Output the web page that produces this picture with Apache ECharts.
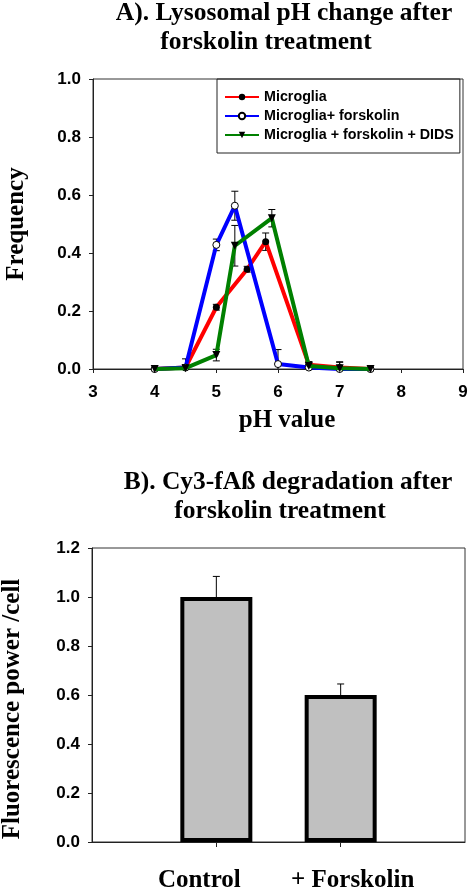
<!DOCTYPE html>
<html><head><meta charset="utf-8">
<script src="https://cdn.jsdelivr.net/npm/echarts@6/dist/echarts.min.js"></script>
<style>html,body{margin:0;padding:0;background:#fff}#c{width:468px;height:891px}</style>
</head><body><div id="c"></div>
<script>
// ---- Panel A data ----
const phRed = [4, 4.5, 5, 5.5, 5.8, 6.5, 7, 7.5];
const freqRed = [0, 0.005, 0.213, 0.344, 0.439, 0.015, 0.005, 0];
const errRed = [0, 0.01, 0.01, 0.01, 0.03, 0.01, 0.02, 0];
const phBlue = [4, 4.5, 5, 5.3, 6, 6.5, 7, 7.5];
const freqBlue = [0, 0.005, 0.428, 0.563, 0.017, 0.005, 0, 0];
const errBlue = [0, 0.03, 0.02, 0.05, 0.05, 0.01, 0, 0];
const phGreen = [4, 4.5, 5, 5.3, 5.9, 6.5, 7, 7.5];
const freqGreen = [0, 0.003, 0.048, 0.425, 0.52, 0.01, 0.003, 0];
const errGreen = [0, 0.01, 0.02, 0.07, 0.03, 0.015, 0.02, 0];
const seriesNames = ['Microglia', 'Microglia+ forskolin', 'Microglia + forskolin + DIDS'];
// ---- Panel B data ----
const barCategories = ['', 'Control', '+ Forskolin', ''];
const barValues = [null, 1.0, 0.6, null];
const barErrors = [null, 0.084, 0.045, null];

const SANS = '"Liberation Sans", Arial, sans-serif';
const SERIF = '"Liberation Serif", "Times New Roman", serif';

function zip(xs, ys) { return xs.map((x, i) => [x, ys[i]]); }
function zip3(xs, ys, es) { return xs.map((x, i) => [x, ys[i], es[i]]); }

function errRender(params, api) {
  const x = api.value(0), y = api.value(1), e = api.value(2);
  if (!e) return;
  const lo = Math.max(0, y - e);
  const t = api.coord([x, y + e]), b = api.coord([x, lo]);
  const cap = 3.5;
  const ch = [
    {type: 'line', shape: {x1: t[0], y1: t[1], x2: b[0], y2: b[1]}, style: {stroke: '#000', lineWidth: 1}},
    {type: 'line', shape: {x1: t[0] - cap, y1: t[1], x2: t[0] + cap, y2: t[1]}, style: {stroke: '#000', lineWidth: 1}}
  ];
  if (y - e > 0) ch.push({type: 'line', shape: {x1: b[0] - cap, y1: b[1], x2: b[0] + cap, y2: b[1]}, style: {stroke: '#000', lineWidth: 1}});
  return {type: 'group', children: ch};
}
function barErrRender(params, api) {
  const x = api.value(0), y = api.value(1), e = api.value(2);
  if (y == null || !e) return;
  const t = api.coord([x, y + e]), b = api.coord([x, y]);
  const cap = 3.5;
  return {type: 'group', children: [
    {type: 'line', shape: {x1: t[0], y1: t[1], x2: b[0], y2: b[1]}, style: {stroke: '#000', lineWidth: 1}},
    {type: 'line', shape: {x1: t[0] - cap, y1: t[1], x2: t[0] + cap, y2: t[1]}, style: {stroke: '#000', lineWidth: 1}}
  ]};
}

const labelShift = {'Control': [0, 34, 0, 0], '+ Forskolin': [0, 0, 0, 24]};

const chart = echarts.init(document.getElementById('c'), null, {renderer: 'canvas'});
const axisLine = {show: true, lineStyle: {color: '#222', width: 1}};
const tickLabel = {color: '#000', fontFamily: SANS, fontWeight: 'bold', fontSize: 17};
const titleStyle = {color: '#000', fontFamily: SERIF, fontWeight: 'bold', fontSize: 25.5};

const option = {
  animation: false,
  backgroundColor: '#fff',
  title: [
    {text: 'A). Lysosomal pH change after', left: 284, top: 0, textAlign: 'center', textStyle: titleStyle, padding: 0},
    {text: 'forskolin treatment', left: 266, top: 29, textAlign: 'center', textStyle: titleStyle, padding: 0},
    {text: 'B). Cy3-fA\u00df degradation after', left: 288, top: 469, textAlign: 'center', textStyle: titleStyle, padding: 0},
    {text: 'forskolin treatment', left: 280, top: 498, textAlign: 'center', textStyle: titleStyle, padding: 0}
  ],
  legend: {
    data: seriesNames,
    orient: 'vertical',
    left: 217, top: 79,
    padding: [11, 6, 11, 7],
    itemWidth: 34, itemHeight: 8, itemGap: 5,
    borderColor: '#222', borderWidth: 1,
    textStyle: {fontFamily: SANS, fontWeight: 'bold', fontSize: 14.3, color: '#000'}
  },
  grid: [
    {left: 93, top: 79, right: 5, height: 290, show: true, borderColor: '#333', borderWidth: 1, outerBoundsMode: 'none', containLabel: false},
    {left: 92, top: 548, right: 3, height: 294, show: true, borderColor: '#333', borderWidth: 1, outerBoundsMode: 'none', containLabel: false}
  ],
  xAxis: [
    {gridIndex: 0, type: 'value', min: 3, max: 9, interval: 1,
     name: 'pH value', nameLocation: 'middle', nameGap: 39,
     nameTextStyle: {fontFamily: SERIF, fontWeight: 'bold', fontSize: 25, color: '#000', padding: [0, 0, 0, 18]},
     axisLine: axisLine, axisTick: {show: true, length: 4, lineStyle: {color: '#222'}},
     axisLabel: Object.assign({margin: 15}, tickLabel), splitLine: {show: false}},
    {gridIndex: 1, type: 'category', boundaryGap: false,
     data: barCategories.map(c => labelShift[c] ? {value: c, textStyle: {padding: labelShift[c]}} : c),
     axisLine: axisLine,
     axisTick: {show: true, length: 5, interval: function (i) { return i === 1 || i === 2; }, lineStyle: {color: '#222'}},
     axisLabel: {interval: 0, margin: 26, color: '#000', fontFamily: SERIF, fontWeight: 'bold', fontSize: 25},
     splitLine: {show: false}}
  ],
  yAxis: [
    {gridIndex: 0, type: 'value', min: 0, max: 1, interval: 0.2,
     name: 'Frequency', nameLocation: 'middle', nameGap: 64,
     nameTextStyle: {fontFamily: SERIF, fontWeight: 'bold', fontSize: 25, color: '#000'},
     axisLine: axisLine, axisTick: {show: true, length: 4, lineStyle: {color: '#222'}},
     axisLabel: Object.assign({margin: 12, formatter: v => v.toFixed(1)}, tickLabel), splitLine: {show: false}},
    {gridIndex: 1, type: 'value', min: 0, max: 1.2, interval: 0.2,
     name: 'Fluorescence power /cell', nameLocation: 'middle', nameGap: 67,
     nameTextStyle: {fontFamily: SERIF, fontWeight: 'bold', fontSize: 25, color: '#000', padding: [0, 28, 0, 0]},
     axisLine: axisLine, axisTick: {show: true, length: 4, lineStyle: {color: '#222'}},
     axisLabel: Object.assign({margin: 12, formatter: v => v.toFixed(1)}, tickLabel), splitLine: {show: false}}
  ],
  series: [
    {type: 'custom', xAxisIndex: 0, yAxisIndex: 0, z: 1, renderItem: errRender, data: zip3(phRed, freqRed, errRed), silent: true},
    {type: 'custom', xAxisIndex: 0, yAxisIndex: 0, z: 1, renderItem: errRender, data: zip3(phBlue, freqBlue, errBlue), silent: true},
    {type: 'custom', xAxisIndex: 0, yAxisIndex: 0, z: 1, renderItem: errRender, data: zip3(phGreen, freqGreen, errGreen), silent: true},
    {name: seriesNames[0], type: 'line', xAxisIndex: 0, yAxisIndex: 0, z: 2, data: zip(phRed, freqRed),
     symbol: 'circle', symbolSize: 7, lineStyle: {color: '#ff0000', width: 4},
     itemStyle: {color: '#000', borderColor: '#000', borderWidth: 0}},
    {name: seriesNames[1], type: 'line', xAxisIndex: 0, yAxisIndex: 0, z: 3, data: zip(phBlue, freqBlue),
     symbol: 'circle', symbolSize: 7, lineStyle: {color: '#0000ff', width: 4},
     itemStyle: {color: '#fff', borderColor: '#000', borderWidth: 1}},
    {name: seriesNames[2], type: 'line', xAxisIndex: 0, yAxisIndex: 0, z: 4, data: zip(phGreen, freqGreen),
     symbol: 'triangle', symbolRotate: 180, symbolSize: 8, lineStyle: {color: '#008000', width: 4},
     itemStyle: {color: '#000', borderColor: '#000', borderWidth: 0}},
    {type: 'bar', xAxisIndex: 1, yAxisIndex: 1, data: barValues, barWidth: 72, z: 2,
     itemStyle: {color: '#c0c0c0', borderColor: '#000', borderWidth: 4}},
    {type: 'custom', xAxisIndex: 1, yAxisIndex: 1, z: 3, renderItem: barErrRender,
     data: barCategories.map((c, i) => [i, barValues[i], barErrors[i]]), silent: true}
  ]
};
chart.setOption(option);
</script>
</body></html>
